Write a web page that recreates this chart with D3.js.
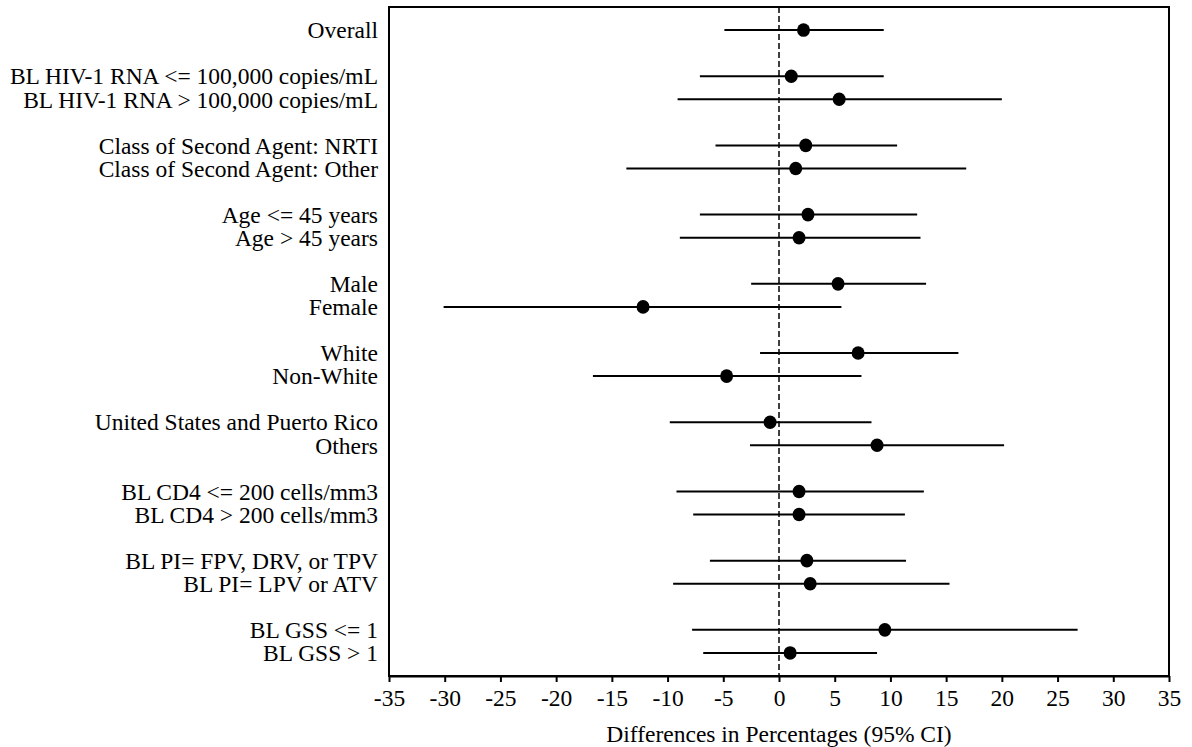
<!DOCTYPE html>
<html>
<head>
<meta charset="utf-8">
<script src="https://cdn.jsdelivr.net/npm/d3@7"></script>
<style>
  body { margin: 0; background: #fff; }
  svg text { font-family: "Liberation Serif", "DejaVu Serif", serif; fill: #000; }
</style>
</head>
<body>
<svg id="chart"></svg>
<script>
// subgroup labels, top to bottom
var categories = [
  "Overall",
  "BL HIV-1 RNA <= 100,000 copies/mL", "BL HIV-1 RNA > 100,000 copies/mL",
  "Class of Second Agent: NRTI", "Class of Second Agent: Other",
  "Age <= 45 years", "Age > 45 years",
  "Male", "Female",
  "White", "Non-White",
  "United States and Puerto Rico", "Others",
  "BL CD4 <= 200 cells/mm3", "BL CD4 > 200 cells/mm3",
  "BL PI= FPV, DRV, or TPV", "BL PI= LPV or ATV",
  "BL GSS <= 1", "BL GSS > 1"
]
// row slot of each label (blank slot between groups)
var slots = [0, 2, 3, 5, 6, 8, 9, 11, 12, 14, 15, 17, 18, 20, 21, 23, 24, 26, 27]

var estimate = [2.2, 1.1, 5.4, 2.4, 1.5, 2.6, 1.8, 5.3, -12.2, 7.1, -4.7, -0.8, 8.8, 1.8, 1.8, 2.5, 2.8, 9.5, 1.0]
var lower    = [-4.9, -7.1, -9.1, -5.7, -13.7, -7.1, -8.9, -2.5, -30.1, -1.7, -16.7, -9.8, -2.6, -9.2, -7.7, -6.2, -9.5, -7.8, -6.8]
var upper    = [9.4, 9.4, 20.0, 10.6, 16.8, 12.4, 12.7, 13.2, 5.6, 16.1, 7.4, 8.3, 20.2, 13.0, 11.3, 11.4, 15.3, 26.8, 8.8]

var xTicks = [-35, -30, -25, -20, -15, -10, -5, 0, 5, 10, 15, 20, 25, 30, 35]

var rows = categories.map(function (c, i) {
  return { label: c, slot: slots[i], est: estimate[i], lo: lower[i], hi: upper[i] }
})

var width = 1192, height = 747
var margin = { left: 389, right: 23, top: 7, bottom: 71 }
var fontSize = '23.5px'

var svg = d3.select('#chart')
  .attr('width', width)
  .attr('height', height)

var x = d3.scaleLinear()
  .domain([-35, 35])
  .range([margin.left, width - margin.right])

var y = d3.scaleLinear()
  .domain([-1, 28])
  .range([margin.top, height - margin.bottom])

// frame
svg.append('rect')
  .attr('x', x(-35))
  .attr('y', y(-1))
  .attr('width', x(35) - x(-35))
  .attr('height', y(28) - y(-1))
  .attr('fill', 'none')
  .attr('stroke', '#000')
  .attr('stroke-width', 2)

// x axis
var xAxis = d3.axisBottom(x)
  .tickValues(xTicks)
  .tickSize(6)
  .tickSizeOuter(0)
  .tickFormat(d => String(d))

var gx = svg.append('g')
  .attr('transform', 'translate(0,' + y(28) + ')')
  .call(xAxis)
  .attr('font-family', null)
  .attr('font-size', null)
gx.select('.domain').attr('stroke-width', 2)
gx.selectAll('.tick line').attr('stroke-width', 2)
gx.selectAll('.tick text')
  .attr('y', 13)
  .style('font-size', fontSize)

svg.append('text')
  .attr('x', x(0))
  .attr('y', 742)
  .attr('text-anchor', 'middle')
  .style('font-size', fontSize)
  .text('Differences in Percentages (95% CI)')

// zero reference line
svg.append('line')
  .attr('x1', x(0)).attr('x2', x(0))
  .attr('y1', y(-1)).attr('y2', y(28))
  .attr('stroke', '#000')
  .attr('stroke-width', 1.5)
  .attr('stroke-dasharray', '6,3')

// row labels
svg.selectAll('.label')
  .data(rows)
  .join('text')
  .attr('class', 'label')
  .attr('x', 378)
  .attr('y', d => y(d.slot))
  .attr('dy', '0.35em')
  .attr('text-anchor', 'end')
  .style('font-size', fontSize)
  .text(d => d.label)

// CI lines
svg.selectAll('.ci')
  .data(rows)
  .join('line')
  .attr('class', 'ci')
  .attr('x1', d => x(d.lo))
  .attr('x2', d => x(d.hi))
  .attr('y1', d => y(d.slot))
  .attr('y2', d => y(d.slot))
  .attr('stroke', '#000')
  .attr('stroke-width', 2)

// point estimates
svg.selectAll('.dot')
  .data(rows)
  .join('ellipse')
  .attr('class', 'dot')
  .attr('cx', d => x(d.est))
  .attr('cy', d => y(d.slot))
  .attr('rx', 6.5)
  .attr('ry', 6.8)
  .attr('fill', '#000')
</script>
</body>
</html>
